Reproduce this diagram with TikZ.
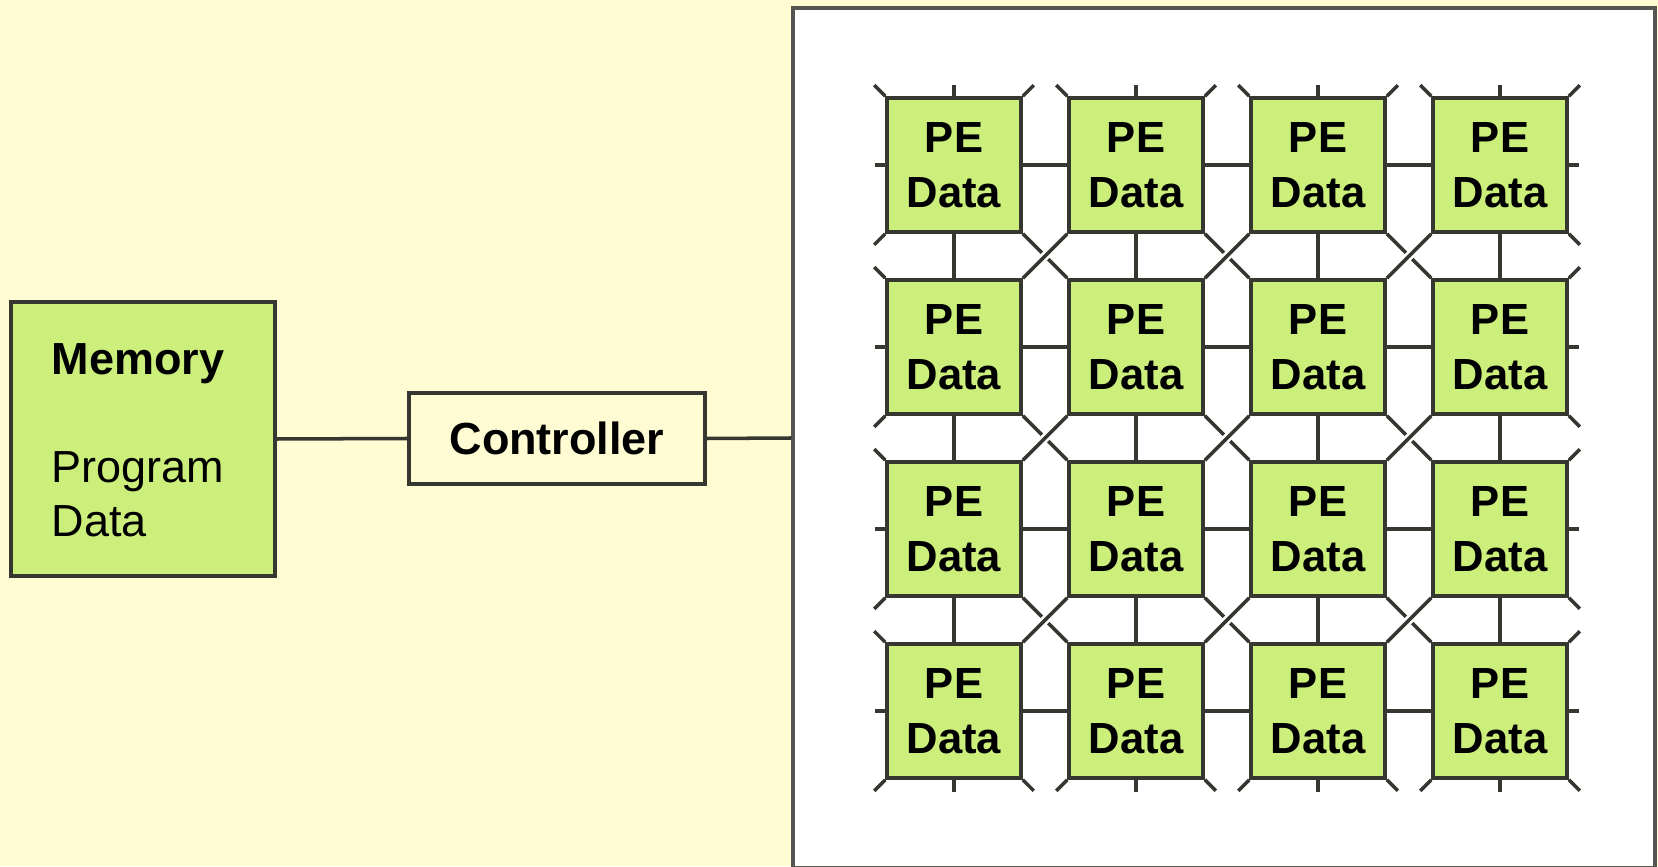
\documentclass[tikz,border=0pt]{standalone}
\usepackage{fontspec}
\setmainfont{Liberation Sans}
\usetikzlibrary{calc}
\definecolor{slidebg}{RGB}{255,252,212}
\definecolor{pegreen}{RGB}{204,238,122}
\definecolor{wire}{RGB}{55,55,50}
\tikzset{
  pebox/.style={draw=wire, line width=1.05pt, fill=pegreen, minimum size=1.34cm,
    inner sep=0pt, align=center, font=\fontsize{12.4}{15.6}\selectfont\bfseries},
  link/.style={draw=wire, line width=1pt},
  memtext/.style={inner sep=0pt, align=left, font=\fontsize{12.8}{15.4}\selectfont},
}
\begin{document}
\begin{tikzpicture}
%\draw[step=1cm,gray,very thin] (0,0) grid (16.58,8.66);
\useasboundingbox (0,0) rectangle (16.58,8.66);
\fill[slidebg] (0,0) rectangle (16.58,8.66);
\node[draw=wire!85, line width=1pt, fill=white, minimum width=8.62cm, minimum height=8.60cm, inner sep=0pt] (array) at (12.24,4.28) {};
\node[draw=wire, line width=1.05pt, fill=pegreen, minimum width=2.64cm, minimum height=2.74cm, inner sep=0pt] (memory) at (1.43,4.27) {};
\node[memtext, anchor=base west] (memtitle) at (0.51,4.91) {\bfseries Memory};
\node[memtext, anchor=base west] (memprog) at (0.51,3.83) {Program};
\node[memtext, anchor=base west] (memdata) at (0.51,3.29) {Data};
\node[draw=wire, line width=1.05pt, fill=slidebg, minimum width=2.96cm, minimum height=0.91cm, inner sep=0pt,
  font=\fontsize{12.8}{15.4}\selectfont\bfseries] (ctrl) at (5.57,4.275) {Controller};
\draw[link] (memory.east) -- (ctrl.west);
\draw[link] (ctrl.east) -- (array.west);
% PE grid
\foreach \r in {0,...,3}
  \foreach \c in {0,...,3}
    \node[pebox] (pe-\r-\c) at (9.54+1.82*\c, 7.01-1.82*\r) {PE\\Data};
\foreach \r in {0,...,3}{
  \foreach \c in {0,...,3}{
    \pgfmathtruncatemacro\rn{\r+1}
    \pgfmathtruncatemacro\cn{\c+1}
    \pgfmathtruncatemacro\cp{\c-1}
    \ifnum\c=0 \draw[link] (pe-\r-\c.west) -- ++(-0.1,0); \fi
    \ifnum\c<3 \draw[link] (pe-\r-\c.east) -- (pe-\r-\cn.west);
    \else \draw[link] (pe-\r-\c.east) -- ++(0.1,0); \fi
    \ifnum\r=0 \draw[link] (pe-\r-\c.north) -- ++(0,0.11); \fi
    \ifnum\r<3 \draw[link] (pe-\r-\c.south) -- (pe-\rn-\c.north);
    \else \draw[link] (pe-\r-\c.south) -- ++(0,-0.12); \fi
    \ifnum\r=0 \draw[link] (pe-\r-\c.north east) -- ++(0.11,0.11);
    \else \ifnum\c=3 \draw[link] (pe-\r-\c.north east) -- ++(0.11,0.11); \fi \fi
    \ifnum\r=3 \draw[link] (pe-\r-\c.south west) -- ++(-0.11,-0.11);
    \else \ifnum\c=0 \draw[link] (pe-\r-\c.south west) -- ++(-0.11,-0.11);
    \else \draw[link] (pe-\r-\c.south west) -- (pe-\rn-\cp.north east); \fi \fi
    \ifnum\r=0 \draw[link] (pe-\r-\c.north west) -- ++(-0.11,0.11);
    \else \ifnum\c=0 \draw[link] (pe-\r-\c.north west) -- ++(-0.11,0.11);
    \else \draw[link] (pe-\r-\c.north west) -- ++(-0.19,0.19); \fi \fi
    \ifnum\r=3 \draw[link] (pe-\r-\c.south east) -- ++(0.11,-0.11);
    \else \ifnum\c=3 \draw[link] (pe-\r-\c.south east) -- ++(0.11,-0.11);
    \else \draw[link] (pe-\r-\c.south east) -- ++(0.19,-0.19); \fi \fi
  }
}
\end{tikzpicture}
\end{document}
